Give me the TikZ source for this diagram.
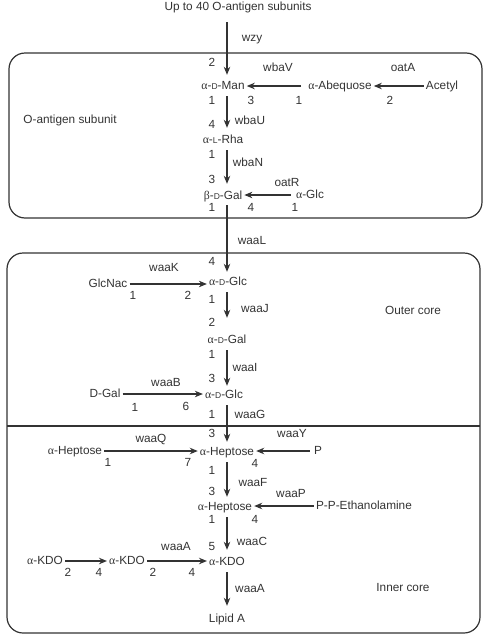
\documentclass[tikz,border=0pt]{standalone}
\usepackage{fontspec}
\setmainfont{Liberation Sans}
\newfontfamily\grk{Liberation Serif}
\usetikzlibrary{arrows.meta}
\definecolor{ink}{rgb}{0.2,0.2,0.2}
\newcommand\al{{\grk α}}
\newcommand\be{{\grk β}}
\newcommand\sD{{\fontsize{8.5}{8}\selectfont D}}
\newcommand\sL{{\fontsize{8.5}{8}\selectfont L}}
\begin{document}
\begin{tikzpicture}[x=1pt,y=-1pt,
  every node/.style={font=\fontsize{11.8}{13}\selectfont, text=ink, inner sep=2pt, text height=8pt, text depth=2pt},
  sugar/.style={},
  lbl/.style={},
  num/.style={},
  arr/.style={draw=ink, line width=1.2pt, -{Stealth[length=8pt,width=6.5pt]}},
  frame/.style={draw=ink, line width=1.2pt, rounded corners=16pt}]
\useasboundingbox (0,0) rectangle (485,635);
% frames
\draw[frame] (9,53) rectangle (482,218);
\draw[frame] (7,253) rectangle (480,633);
\coordinate (divL) at (7,426);
\coordinate (divR) at (480,426);
\draw[draw=ink, line width=1.2pt] (divL) -- (divR);
\coordinate (vx) at (227,0);
\coordinate (wtop) at (227,22);
% sugars
\node[sugar] (title) at (238,7) {Up to 40 O-antigen subunits};
\node[sugar] (man) at (223,86) {\al-\sD-Man};
\node[sugar] (abe) at (340,86) {\al-Abequose};
\node[sugar] (acetyl) at (442,86) {Acetyl};
\node[sugar] (rha) at (223,140) {\al-\sL-Rha};
\node[sugar] (galb) at (223,196) {\be-\sD-Gal};
\node[sugar] (glca) at (310,195) {\al-Glc};
\node[lbl] (osub) at (70,120) {O-antigen subunit};
\node[sugar] (glc1) at (228,282) {\al-\sD-Glc};
\node[sugar] (glcnac) at (108,284) {GlcNac};
\node[sugar] (gal2) at (227,340) {\al-\sD-Gal};
\node[sugar] (glc2) at (224,395) {\al-\sD-Glc};
\node[sugar] (dgal) at (105,394) {D-Gal};
\node[sugar] (hep1) at (227,452) {\al-Heptose};
\node[sugar] (pp) at (318,451) {P};
\node[sugar] (hepl) at (75,451) {\al-Heptose};
\node[sugar] (hep2) at (225,507) {\al-Heptose};
\node[sugar] (ppe) at (364,506) {P-P-Ethanolamine};
\node[sugar] (kdo3) at (227,562) {\al-KDO};
\node[sugar] (kdo2) at (127,561) {\al-KDO};
\node[sugar] (kdo1) at (45,561) {\al-KDO};
\node[sugar] (lipid) at (227,619) {Lipid A};
\node[lbl] (outer) at (413,311) {Outer core};
\node[lbl] (inner) at (403,588) {Inner core};
% enzymes
\node[lbl] (wzy) at (252,38) {wzy};
\node[lbl] (wbaV) at (278,68) {wbaV};
\node[lbl] (oatA) at (403,68) {oatA};
\node[lbl] (wbaU) at (250,121) {wbaU};
\node[lbl] (wbaN) at (248,163) {wbaN};
\node[lbl] (oatR) at (287,183) {oatR};
\node[lbl] (waaL) at (252,241) {waaL};
\node[lbl] (waaK) at (164,268) {waaK};
\node[lbl] (waaJ) at (255,309) {waaJ};
\node[lbl] (waaI) at (245,368) {waaI};
\node[lbl] (waaB) at (166,383) {waaB};
\node[lbl] (waaG) at (250,415) {waaG};
\node[lbl] (waaY) at (292,434) {waaY};
\node[lbl] (waaQ) at (151,439) {waaQ};
\node[lbl] (waaF) at (253,483) {waaF};
\node[lbl] (waaP) at (291,494) {waaP};
\node[lbl] (waaC) at (252,542) {waaC};
\node[lbl] (waaAa) at (176,547) {waaA};
\node[lbl] (waaAb) at (250,589) {waaA};
% numbers
\node[num] (n01) at (212,63) {2};
\node[num] (n02) at (212,101) {1};
\node[num] (n03) at (251,101) {3};
\node[num] (n04) at (299,101) {1};
\node[num] (n05) at (390,101) {2};
\node[num] (n06) at (212,125) {4};
\node[num] (n07) at (212,155) {1};
\node[num] (n08) at (212,180) {3};
\node[num] (n09) at (212,208) {1};
\node[num] (n10) at (251,208) {4};
\node[num] (n11) at (295,208) {1};
\node[num] (n12) at (212,262) {4};
\node[num] (n13) at (133,296) {1};
\node[num] (n14) at (188,296) {2};
\node[num] (n15) at (212,300) {1};
\node[num] (n16) at (212,323) {2};
\node[num] (n17) at (212,355) {1};
\node[num] (n18) at (212,379) {3};
\node[num] (n19) at (135,408) {1};
\node[num] (n20) at (186,407) {6};
\node[num] (n21) at (212,415) {1};
\node[num] (n22) at (212,434) {3};
\node[num] (n23) at (108,463) {1};
\node[num] (n24) at (188,463) {7};
\node[num] (n25) at (255,464) {4};
\node[num] (n26) at (212,471) {1};
\node[num] (n27) at (212,492) {3};
\node[num] (n28) at (212,520) {1};
\node[num] (n29) at (255,520) {4};
\node[num] (n30) at (212,547) {5};
\node[num] (n31) at (68,573) {2};
\node[num] (n32) at (99,573) {4};
\node[num] (n33) at (153,573) {2};
\node[num] (n34) at (192,573) {4};
% vertical arrows
\draw[arr] (wtop) -- ([yshift=4pt]man.north -| vx);
\draw[arr] ([yshift=-3pt]man.south -| vx) -- ([yshift=5pt]rha.north -| vx);
\draw[arr] ([yshift=-3pt]rha.south -| vx) -- ([yshift=5pt]galb.north -| vx);
\draw[arr] ([yshift=-2pt]galb.south -| vx) -- ([yshift=3pt]glc1.north -| vx);
\draw[arr] ([yshift=-3pt]glc1.south -| vx) -- ([yshift=15pt]gal2.north -| vx);
\draw[arr] ([yshift=-3pt]gal2.south -| vx) -- ([yshift=2pt]glc2.north -| vx);
\draw[arr] ([yshift=-3pt]glc2.south -| vx) -- ([yshift=3pt]hep1.north -| vx);
\draw[arr] ([yshift=-3pt]hep1.south -| vx) -- ([yshift=3pt]hep2.north -| vx);
\draw[arr] ([yshift=-3pt]hep2.south -| vx) -- ([yshift=5pt]kdo3.north -| vx);
\draw[arr] ([yshift=-3pt]kdo3.south -| vx) -- ([yshift=6pt]lipid.north -| vx);
% horizontal arrows
\draw[arr, shorten <=5pt] (abe.west) -- (abe.west -| man.east);
\draw[arr] (acetyl.west) -- (acetyl.west -| abe.east);
\draw[arr, shorten <=3pt] (glca.west) -- (glca.west -| galb.east);
\draw[arr] (glcnac.east) -- (glcnac.east -| glc1.west);
\draw[arr] (dgal.east) -- (dgal.east -| glc2.west);
\draw[arr, shorten <=2pt] (pp.west) -- (pp.west -| hep1.east);
\draw[arr] (hepl.east) -- (hepl.east -| hep1.west);
\draw[arr] (ppe.west) -- (ppe.west -| hep2.east);
\draw[arr] (kdo1.east) -- (kdo1.east -| kdo2.west);
\draw[arr] (kdo2.east) -- (kdo2.east -| kdo3.west);
\end{tikzpicture}
\end{document}
